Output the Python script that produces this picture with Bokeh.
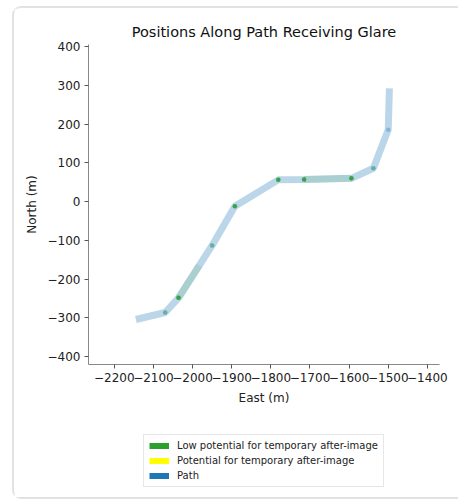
from bokeh.plotting import figure
from bokeh.layouts import column
from bokeh.models import Range1d, Legend, LegendItem, FixedTicker
from bokeh.embed import file_html
from bokeh.resources import INLINE

# ---- data ----
path_east = [-2145, -2070, -2036, -1950, -1892, -1781, -1715, -1594, -1538, -1500, -1497]
path_north = [-304, -286, -248, -113, -12, 56, 57, 60, 86, 185, 292]

low_seg_east = [[-2036, -1983], [-1715, -1594]]
low_seg_north = [[-248, -165], [57, 60]]

low_pts_east = [-2036, -1892, -1781, -1715, -1594]
low_pts_north = [-248, -12, 56, 57, 60]
faint_pts_east = [-2070, -1950, -1538]
faint_pts_north = [-286, -113, 86]
vert_east = [-2070, -2036, -1950, -1892, -1781, -1715, -1594, -1538, -1500]
vert_north = [-286, -248, -113, -12, 56, 57, 60, 86, 185]

x_ticks = [-2200, -2100, -2000, -1900, -1800, -1700, -1600, -1500, -1400]
y_ticks = [-400, -300, -200, -100, 0, 100, 200, 300, 400]

legend_labels = ["Low potential for temporary after-image",
                 "Potential for temporary after-image",
                 "Path"]
legend_colors = ["#2ca02c", "#ffff00", "#1f77b4"]

FONT = "DejaVu Sans"

p = figure(output_backend="svg", toolbar_location=None,
           x_range=Range1d(-2266, -1369), y_range=Range1d(-420, 405),
           frame_width=351, frame_height=320,
           min_border_left=74, min_border_top=36, min_border_right=19, min_border_bottom=46,
           title="Positions Along Path Receiving Glare")

p.title.align = "center"
p.title.text_font = FONT
p.title.text_font_size = "14.5px"
p.title.text_font_style = "normal"
p.title.text_color = "#111111"

p.outline_line_color = None
p.grid.visible = False

for ax, ticks, lab in ((p.xaxis[0], x_ticks, "East (m)"), (p.yaxis[0], y_ticks, "North (m)")):
    ax.ticker = FixedTicker(ticks=ticks)
    ax.major_label_overrides = {t: str(t).replace("-", "\u2212") for t in ticks}
    ax.axis_label = lab
    ax.axis_label_text_font = FONT
    ax.axis_label_text_font_size = "12px"
    ax.axis_label_text_font_style = "normal"
    ax.axis_label_text_color = "#222222"
    ax.major_label_text_font = FONT
    ax.major_label_text_font_size = "12px"
    ax.major_label_text_color = "#222222"
    ax.axis_line_color = "#888888"
    ax.major_tick_line_color = "#555555"
    ax.major_tick_out = 4
    ax.major_tick_in = 0
    ax.minor_tick_line_color = None
    ax.major_label_standoff = 4
    ax.axis_label_standoff = 6

# path
p.line(path_east, path_north, line_color="#1f77b4", line_alpha=0.3, line_width=7)
# low potential glare segments
p.multi_line(low_seg_east, low_seg_north, line_color="#2ca02c", line_alpha=0.12, line_width=7)
# dots
p.scatter(vert_east, vert_north, size=4.5, fill_color="#1f77b4", fill_alpha=0.35, line_color=None)
p.scatter(faint_pts_east, faint_pts_north, size=4.5, fill_color="#2ca02c", fill_alpha=0.3, line_color=None)
p.scatter(low_pts_east, low_pts_north, size=4.5, fill_color="#2ca02c", fill_alpha=0.85, line_color=None)

# legend panel underneath the chart
q = figure(output_backend="svg", toolbar_location=None, width=444, height=87,
           x_range=Range1d(0, 1), y_range=Range1d(0, 1),
           x_axis_type=None, y_axis_type=None, min_border=0)
q.outline_line_color = None
q.grid.visible = False

items = []
for lab, col in zip(legend_labels, legend_colors):
    # swatch renderer kept outside the visible range; only its legend entry shows
    r = q.line([5, 6], [5, 5], line_color=col, line_width=6)
    items.append(LegendItem(label=lab, renderers=[r]))

legend = Legend(items=items, location=(55, 10), orientation="vertical",
                label_text_font=FONT, label_text_font_size="10px", label_text_color="#222222",
                glyph_width=20, glyph_height=11, label_height=11, spacing=4,
                label_standoff=8, padding=5, margin=0,
                border_line_color="#d0d0d0", border_line_width=1,
                background_fill_color="white")
q.add_layout(legend)

layout = column(p, q, spacing=0)
layout.styles = {"margin-left": "12px", "margin-top": "6px",
                 "border-left": "2px solid #e2e2e2", "border-top": "2px solid #e2e2e2",
                 "border-bottom": "2px solid #e2e2e2", "border-top-left-radius": "9px",
                 "border-bottom-left-radius": "9px"}

open("out.html", "w").write(file_html(layout, INLINE))
